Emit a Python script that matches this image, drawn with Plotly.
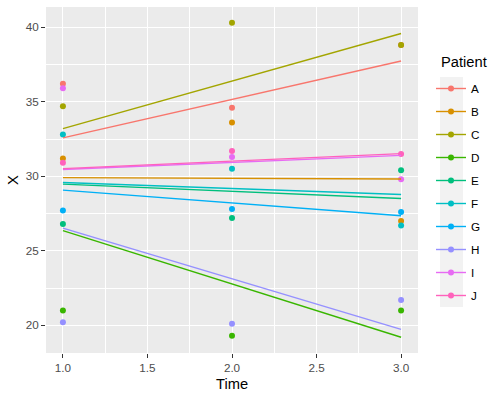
import plotly.graph_objects as go

patients = ["A", "B", "C", "D", "E", "F", "G", "H", "I", "J"]
colors = ["#F8766D", "#D89000", "#A3A500", "#39B600", "#00BF7D",
          "#00BFC4", "#00B0F6", "#9590FF", "#E76BF3", "#FF62BC"]
times = [1, 2, 3]
# observed X per patient at Time 1, 2, 3
obs = {
    "A": [36.2, 34.6, 38.8],
    "B": [31.2, 33.6, 27.0],
    "C": [34.7, 40.3, 38.8],
    "D": [21.0, 19.3, 21.0],
    "E": [26.8, 27.2, 30.4],
    "F": [32.8, 30.5, 26.7],
    "G": [27.7, 27.8, 27.6],
    "H": [20.2, 20.1, 21.7],
    "I": [35.9, 31.3, 29.8],
    "J": [30.9, 31.7, 31.5],
}
# fitted line values at Time 1 and Time 3
fit_times = [1, 3]
fit = {
    "A": [32.58, 37.73],
    "B": [29.91, 29.82],
    "C": [33.20, 39.58],
    "D": [26.35, 19.20],
    "E": [29.47, 28.51],
    "F": [29.58, 28.78],
    "G": [29.07, 27.35],
    "H": [26.52, 19.73],
    "I": [30.45, 31.40],
    "J": [30.51, 31.52],
}
x_ticks = [1.0, 1.5, 2.0, 2.5, 3.0]
y_ticks = [20, 25, 30, 35, 40]

fig = go.Figure()
for p, c in zip(patients, colors):
    fig.add_trace(go.Scatter(x=times, y=obs[p], mode="markers",
                             marker=dict(color=c, size=6),
                             showlegend=False, legendgroup=p, hoverinfo="skip"))
for p, c in zip(patients, colors):
    fig.add_trace(go.Scatter(x=fit_times, y=fit[p], mode="lines",
                             line=dict(color=c, width=1.4),
                             showlegend=False, legendgroup=p, hoverinfo="skip"))
for p, c in zip(patients, colors):
    fig.add_trace(go.Scatter(x=[None], y=[None], mode="lines+markers", name=p,
                             line=dict(color=c, width=1.4),
                             marker=dict(color=c, size=6),
                             legendgroup=p, showlegend=True))

allx = times + fit_times
ally = [v for p in patients for v in obs[p] + fit[p]]
xr = [min(allx), max(allx)]
yr = [min(ally), max(ally)]
xpad = (xr[1] - xr[0]) * 0.05
ypad = (yr[1] - yr[0]) * 0.05

L, R, T, B = 46, 82, 7, 47
W, H = 500, 400
pw, ph = W - L - R, H - T - B

def px_x(px):
    return (px - L) / pw

def px_y(py):
    return (H - B - py) / ph

font = "Liberation Sans, Arial, sans-serif"
axis_common = dict(
    showgrid=True, gridcolor="white", gridwidth=1.4,
    zeroline=False, showline=False, automargin=False,
    ticks="outside", ticklen=4, tickwidth=1.1, tickcolor="#333333",
    tickfont=dict(family=font, size=11.7, color="#4D4D4D"),
)
fig.update_layout(
    width=W, height=H,
    margin=dict(l=L, r=R, t=T, b=B, autoexpand=False),
    paper_bgcolor="white", plot_bgcolor="#EBEBEB",
    xaxis=dict(range=[xr[0] - xpad, xr[1] + xpad], tickvals=x_ticks,
               ticktext=[f"{v:.1f}" for v in x_ticks],
               minor=dict(showgrid=True, gridcolor="white", gridwidth=0.7, dtick=0.25, tick0=0.75),
               **axis_common),
    yaxis=dict(range=[yr[0] - ypad, yr[1] + ypad], tickvals=y_ticks,
               minor=dict(showgrid=True, gridcolor="white", gridwidth=0.7, dtick=2.5, tick0=17.5),
               **axis_common),
    legend=dict(x=px_x(431), xanchor="left", y=px_y(74), yanchor="top",
                bgcolor="rgba(0,0,0,0)", tracegroupgap=4, itemwidth=30,
                font=dict(family=font, size=11.7, color="black")),
    shapes=[dict(type="rect", xref="paper", yref="paper",
                 x0=px_x(440), x1=px_x(463), y0=px_y(307), y1=px_y(77),
                 fillcolor="#F2F2F2", line=dict(width=0), layer="below")],
    annotations=[
        dict(text="Time", xref="paper", yref="paper", x=0.5, y=px_y(384),
             xanchor="center", yanchor="middle", showarrow=False,
             font=dict(family=font, size=14.7, color="black")),
        dict(text="X", xref="paper", yref="paper", x=px_x(13), y=0.5,
             xanchor="center", yanchor="middle", showarrow=False, textangle=-90,
             font=dict(family=font, size=14.7, color="black")),
        dict(text="Patient", xref="paper", yref="paper", x=px_x(439), y=px_y(62),
             xanchor="left", yanchor="middle", showarrow=False,
             font=dict(family=font, size=14.7, color="black")),
    ],
)
fig.write_html("out.html", config={"displayModeBar": False},
               post_script="document.body.style.margin='0px';document.body.style.overflow='hidden';")
